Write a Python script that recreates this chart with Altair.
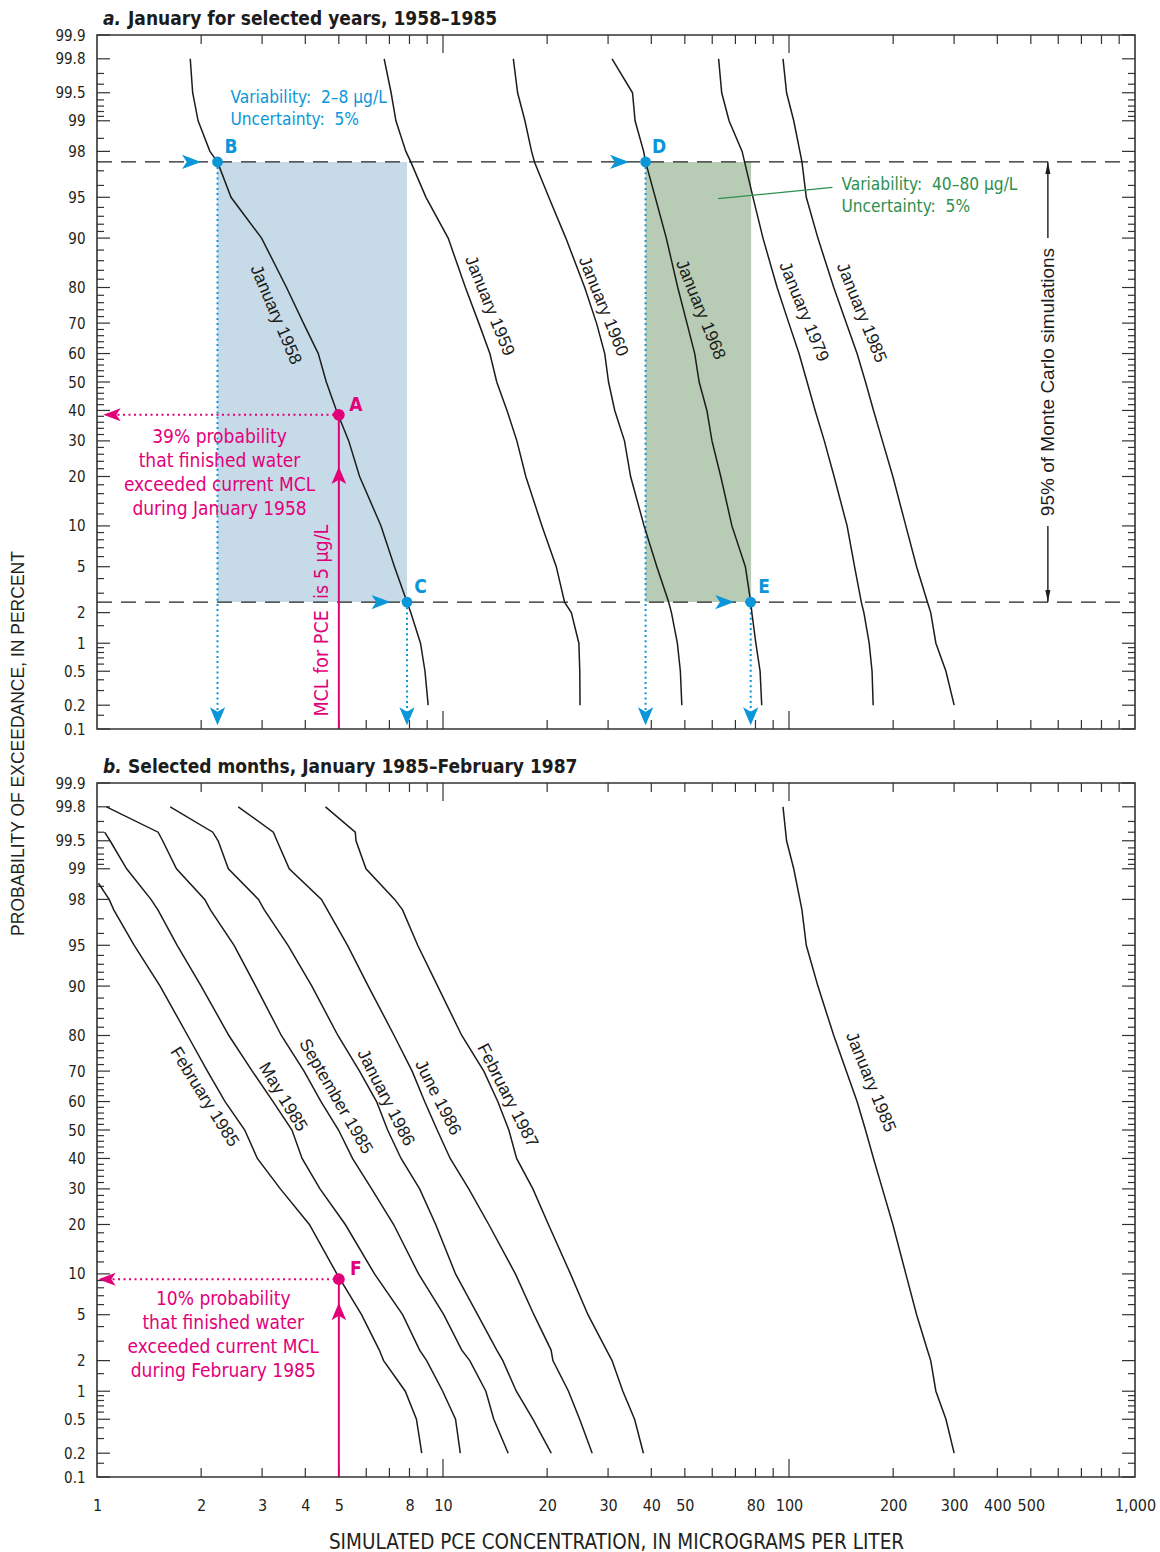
import altair as alt
import pandas as pd
from statistics import NormalDist

ND = NormalDist()

# ---------------- values ----------------
# exceedance probabilities (percent) at which each curve was read
PROB_A = [99.8, 99.5, 99, 98, 97.5, 95, 90, 80, 70, 60, 50, 40, 30, 20, 10, 5, 2.5, 2, 1, 0.5, 0.2]
PROB_B = [99.8, 99.6, 99.5, 99, 98, 97.5, 95, 90, 80, 70, 60, 50, 40, 30, 20, 10, 5, 2.5, 2, 1, 0.5, 0.2]
PROB_FEB85 = [98.6, 98, 97.5, 95, 90, 80, 70, 60, 50, 40, 30, 20, 10, 5, 2.5, 2, 1, 0.5, 0.2]
PROB_MAY85 = [99.6, 99.5, 99, 98, 97.5, 95, 90, 80, 70, 60, 50, 40, 30, 20, 10, 5, 2.5, 2, 1, 0.5, 0.2]

# simulated PCE concentration, micrograms per liter
JAN_1958 = [1.86, 1.89, 1.96, 2.12, 2.23, 2.44, 2.99, 3.53, 3.95, 4.36, 4.60, 4.92, 5.34, 5.74, 6.62, 7.24, 7.87, 8.07, 8.61, 8.87, 9.06]
JAN_1959 = [6.76, 7.08, 7.31, 7.81, 8.07, 8.93, 10.35, 11.61, 12.69, 13.66, 14.30, 15.31, 16.35, 17.35, 19.32, 21.25, 22.46, 23.49, 24.70, 24.85, 24.89]
JAN_1960 = [15.97, 16.43, 17.25, 18.03, 18.38, 20.22, 22.65, 25.68, 27.78, 29.34, 30.09, 31.36, 33.46, 34.85, 38.12, 41.5, 44.89, 45.74, 47.57, 48.53, 49.01]
JAN_1968 = [30.8, 35.3, 35.9, 38.0, 38.5, 41.06, 44.2, 47.7, 50.7, 53.4, 55.0, 57.9, 59.9, 63.5, 68.4, 74.8, 77.5, 78.1, 80.2, 82.5, 83.4]
JAN_1979 = [62.6, 63.9, 67.1, 73.2, 74.4, 78.7, 84.1, 92.4, 99.9, 106.9, 112.8, 119.0, 126.5, 135.0, 147.2, 154.7, 161.8, 164.6, 170.5, 173.8, 175.1]
JAN_1985 = [96.1, 98.4, 103.2, 107.5, 109.0, 112.2, 121.2, 134.7, 146.4, 157.3, 166.4, 175.5, 186.2, 199.6, 217.6, 233.8, 251.2, 256.8, 265.8, 284.2, 300.1]

FEB_1985 = [1.01, 1.084, 1.118, 1.281, 1.522, 1.828, 2.085, 2.345, 2.673, 2.907, 3.388, 4.11, 4.935, 5.815, 6.545, 6.735, 7.78, 8.38, 8.68]
MAY_1985 = [1.052, 1.091, 1.218, 1.432, 1.50, 1.705, 2.0, 2.405, 2.81, 3.227, 3.66, 3.915, 4.41, 5.22, 6.34, 7.643, 8.56, 8.97, 9.98, 10.87, 11.22]
SEP_1985 = [1.065, 1.502, 1.548, 1.697, 2.048, 2.127, 2.49, 2.875, 3.41, 3.966, 4.44, 4.99, 5.475, 6.22, 7.2, 8.5, 10.05, 11.33, 11.95, 13.3, 14.02, 15.43]
JAN_1986 = [1.628, 2.161, 2.239, 2.397, 2.928, 3.045, 3.565, 4.178, 4.969, 5.738, 6.427, 6.918, 7.565, 8.56, 9.526, 10.87, 12.59, 14.3, 14.89, 16.29, 18.19, 20.55]
JUN_1986 = [2.56, 3.234, 3.313, 3.594, 4.454, 4.633, 5.297, 6.081, 7.223, 8.143, 8.85, 9.62, 10.49, 11.87, 13.56, 16.19, 18.31, 20.53, 20.78, 23.05, 24.83, 26.99]
FEB_1987 = [4.575, 5.577, 5.605, 5.99, 7.25, 7.64, 8.45, 9.65, 11.33, 13.12, 14.4, 15.5, 16.32, 18.19, 20.17, 23.36, 26.24, 29.69, 30.8, 33.1, 35.79, 37.95]

CURVES = [
    ("a", "January 1958", PROB_A, JAN_1958),
    ("a", "January 1959", PROB_A, JAN_1959),
    ("a", "January 1960", PROB_A, JAN_1960),
    ("a", "January 1968", PROB_A, JAN_1968),
    ("a", "January 1979", PROB_A, JAN_1979),
    ("a", "January 1985", PROB_A, JAN_1985),
    ("b", "February 1985", PROB_FEB85, FEB_1985),
    ("b", "May 1985", PROB_MAY85, MAY_1985),
    ("b", "September 1985", PROB_B, SEP_1985),
    ("b", "January 1986", PROB_B, JAN_1986),
    ("b", "June 1986", PROB_B, JUN_1986),
    ("b", "February 1987", PROB_B, FEB_1987),
    ("b", "January 1985", PROB_A, JAN_1985),
]

# curve labels: panel, text, concentration, probability, rotation
CURVE_LABELS = [
    ("a", "January 1958", 3.28, 72.5, 67),
    ("a", "January 1959", 13.6, 75.1, 68),
    ("a", "January 1960", 29.0, 74.9, 68),
    ("a", "January 1968", 55.4, 74.0, 68),
    ("a", "January 1979", 110.1, 73.4, 68),
    ("a", "January 1985", 161.6, 73.1, 68),
    ("b", "February 1985", 2.04, 61.5, 58),
    ("b", "May 1985", 3.44, 61.5, 59),
    ("b", "September 1985", 4.89, 61.7, 60),
    ("b", "January 1986", 6.82, 61.3, 63),
    ("b", "June 1986", 9.65, 61.3, 63),
    ("b", "February 1987", 15.33, 62.0, 63),
    ("b", "January 1985", 171.8, 66.5, 68),
]

MCL = 5.0          # maximum contaminant level, ug/L
A_PROB = 38.5      # point A (January 1958)
F_PROB = 9.2       # point F (February 1985)
BAND_HI, BAND_LO = 97.5, 2.5   # 95 % of Monte Carlo simulations

X_LABELS = [1, 2, 3, 4, 5, 8, 10, 20, 30, 40, 50, 80, 100, 200, 300, 400, 500, 1000]
X_TICK_MAJOR = [10, 100]
X_TICK_MINOR = [2, 3, 4, 5, 6, 7, 8, 9, 20, 30, 40, 50, 60, 70, 80, 90, 200, 300, 400, 500, 600, 700, 800, 900]
Y_LABELS = [99.9, 99.8, 99.5, 99, 98, 95, 90, 80, 70, 60, 50, 40, 30, 20, 10, 5, 2, 1, 0.5, 0.2, 0.1]
Y_TICK_MINOR = [99.7, 99.6, 99.4, 99.3, 99.2, 99.1, 98.5, 97, 96, 94, 93, 92, 91, 88, 86, 84, 82,
                78, 76, 74, 72, 68, 66, 64, 62, 58, 56, 54, 52, 48, 46, 44, 42, 38, 36, 34, 32,
                28, 26, 24, 22, 18, 16, 14, 12, 9, 8, 7, 6, 4, 3, 1.5, 0.9, 0.8, 0.7, 0.6, 0.4, 0.3, 0.15]

# ---------------- layout / probability scale ----------------
W = 1038
PANEL_H = 694
GAP = 54
Z_TOP = ND.inv_cdf(99.9 / 100.0)
Z_BOT = ND.inv_cdf(0.1 / 100.0)
PX_Z = PANEL_H / (Z_TOP - Z_BOT)
SHIFT = (Z_TOP - Z_BOT) + GAP / PX_Z   # panel a sits above panel b on one probit axis
H = 2 * PANEL_H + GAP


def zp(p, panel):
    return ND.inv_cdf(p / 100.0) + (SHIFT if panel == "a" else 0.0)


NARROW = "DejaVu Sans Condensed, Liberation Sans Narrow, Arial Narrow, Liberation Sans, sans-serif"
SANS = "Liberation Sans, Arial, Helvetica, sans-serif"
BLUE = "#0a96d8"
MAG = "#e2007a"
GREEN_TXT = "#2e8f50"
BLUE_FILL = "#c6dbe7"
GREEN_FILL = "#b8ccb5"
INK = "#1c1c1c"
FRAME = "#333333"
LABEL_C = "#231f20"
SP2 = "\u00a0 "   # a visible double space

y_vals = [zp(p, pan) for pan in "ab" for p in Y_LABELS]
keys = ",".join("'%.4f'" % (v + 10) for v in y_vals)
labs = ",".join("'%g'" % p for pan in "ab" for p in Y_LABELS)
Y_LABEL_EXPR = f"[{labs}][indexof([{keys}], format(datum.value + 10, '.4f'))]"

XS = alt.Scale(type="log", domain=[1, 1000], nice=False)
YS = alt.Scale(domain=[zp(0.1, "b"), zp(99.9, "a")], nice=False, zero=False)

X_AXIS = alt.Axis(
    values=X_LABELS, labelExpr="format(datum.value, ',')", domain=False, ticks=False,
    tickSize=0, grid=False, labelPadding=20, labelFont=NARROW, labelFontSize=16,
    labelColor=LABEL_C, labelFlush=False, labelOverlap=False, labelBound=False,
    title="SIMULATED PCE CONCENTRATION, IN MICROGRAMS PER LITER", titleFont=NARROW,
    titleFontSize=20.5, titleFontWeight="normal", titleColor=LABEL_C,
    titleBaseline="alphabetic", titleY=71,
)
Y_AXIS = alt.Axis(
    values=y_vals, labelExpr=Y_LABEL_EXPR, domain=False, ticks=False, tickSize=0,
    grid=False, labelPadding=12, labelFont=NARROW, labelFontSize=15, labelColor=LABEL_C,
    labelFlush=False, labelOverlap=False, labelBound=False,
    title="PROBABILITY OF EXCEEDANCE, IN PERCENT", titleFont=SANS, titleFontSize=17.5,
    titleFontWeight="normal", titleColor=LABEL_C, titleAngle=270, titleX=-79, titleY=708,
    titleAlign="center", titleBaseline="middle",
)


def X():
    return alt.X("x:Q", scale=XS, axis=X_AXIS)


def Y():
    return alt.Y("z:Q", scale=YS, axis=Y_AXIS)


def base(rows):
    return alt.Chart(pd.DataFrame(rows))


layers = []

# shaded variability boxes
iB = PROB_A.index(BAND_HI)
iC = PROB_A.index(BAND_LO)
B_X, C_X = JAN_1958[iB], JAN_1958[iC]
D_X, E_X = JAN_1968[iB], JAN_1968[iC]
layers.append(
    base([
        {"x": B_X, "x2": C_X, "z": zp(BAND_HI, "a"), "z2": zp(BAND_LO, "a"), "f": BLUE_FILL},
        {"x": D_X, "x2": E_X * 1.003, "z": zp(BAND_HI, "a"), "z2": zp(BAND_LO, "a"), "f": GREEN_FILL},
    ]).mark_rect().encode(x=X(), x2="x2:Q", y=Y(), y2="z2:Q", color=alt.Color("f:N", scale=None))
)

# dashed 97.5 / 2.5 percent lines
layers.append(
    base([{"x": 1, "x2": 1000, "z": zp(p, "a")} for p in (BAND_HI, BAND_LO)])
    .mark_rule(strokeDash=[15, 9], color="#222222", strokeWidth=1.3)
    .encode(x=X(), x2="x2:Q", y=Y())
)

# blue dotted drop lines
ARROW_TIP_P = 0.146
layers.append(
    base([
        {"x": B_X, "z": zp(BAND_HI, "a"), "z2": zp(ARROW_TIP_P, "a")},
        {"x": C_X, "z": zp(BAND_LO, "a"), "z2": zp(ARROW_TIP_P, "a")},
        {"x": D_X, "z": zp(BAND_HI, "a"), "z2": zp(ARROW_TIP_P, "a")},
        {"x": E_X, "z": zp(BAND_LO, "a"), "z2": zp(ARROW_TIP_P, "a")},
    ]).mark_rule(strokeDash=[2, 3.2], strokeWidth=2, color=BLUE)
    .encode(x=X(), y=Y(), y2="z2:Q")
)

# axis ticks drawn inside the frames
def ticks(rows, orient, size, **off):
    return base(rows).mark_tick(orient=orient, size=size, thickness=1.2, color=FRAME,
                                opacity=1, **off).encode(x=X(), y=Y())


for pan in "ab":
    maj = [{"x": 1, "z": zp(p, pan)} for p in Y_LABELS]
    mnr = [{"x": 1, "z": zp(p, pan)} for p in Y_TICK_MINOR]
    layers.append(ticks(maj, "horizontal", 13, xOffset=6.5))
    layers.append(ticks(mnr, "horizontal", 7, xOffset=3.5))
    layers.append(ticks([dict(r, x=1000) for r in maj], "horizontal", 13, xOffset=-6.5))
    layers.append(ticks([dict(r, x=1000) for r in mnr], "horizontal", 7, xOffset=-3.5))
    top = zp(99.9, pan)
    bot = zp(0.1, pan)
    layers.append(ticks([{"x": v, "z": top} for v in X_TICK_MAJOR], "vertical", 18, yOffset=9))
    layers.append(ticks([{"x": v, "z": top} for v in X_TICK_MINOR], "vertical", 9, yOffset=4.5))
    layers.append(ticks([{"x": v, "z": bot} for v in X_TICK_MAJOR], "vertical", 18, yOffset=-9))
    layers.append(ticks([{"x": v, "z": bot} for v in X_TICK_MINOR], "vertical", 9, yOffset=-4.5))

# exceedance curves
rows = []
for pan, name, probs, conc in CURVES:
    assert len(probs) == len(conc), name
    for i, (p, c) in enumerate(zip(probs, conc)):
        rows.append({"key": pan + name, "ord": i, "x": c, "z": zp(p, pan)})
layers.append(
    base(rows).mark_line(color=INK, strokeWidth=1.5)
    .encode(x=X(), y=Y(), detail="key:N", order="ord:Q")
)

# magenta MCL lines
layers.append(
    base([
        {"x": MCL, "z": zp(0.1, "a"), "z2": zp(A_PROB, "a")},
        {"x": MCL, "z": zp(0.1, "b"), "z2": zp(F_PROB, "b")},
    ]).mark_rule(color=MAG, strokeWidth=2).encode(x=X(), y=Y(), y2="z2:Q")
)
layers.append(
    base([
        {"x": 1.105, "x2": MCL, "z": zp(A_PROB, "a")},
        {"x": 1.069, "x2": MCL, "z": zp(F_PROB, "b")},
    ]).mark_rule(color=MAG, strokeWidth=2, strokeDash=[2, 3.5]).encode(x=X(), x2="x2:Q", y=Y())
)

# green leader line
layers.append(
    base([{"x": 62.4, "x2": 133.5, "z": zp(94.87, "a"), "z2": zp(95.84, "a")}])
    .mark_rule(color=GREEN_TXT, strokeWidth=1.3)
    .encode(x=X(), x2="x2:Q", y=Y(), y2="z2:Q")
)

# Monte Carlo double arrow
MC_X = 560
layers.append(
    base([
        {"x": MC_X, "z": zp(BAND_HI, "a"), "z2": zp(90, "a")},
        {"x": MC_X, "z": zp(10, "a"), "z2": zp(BAND_LO, "a")},
    ]).mark_rule(color=INK, strokeWidth=1.4).encode(x=X(), y=Y(), y2="z2:Q")
)
TRI_U = "M0,-1L0.42,1L-0.42,1Z"
TRI_D = "M0,1L0.42,-1L-0.42,-1Z"
layers.append(base([{"x": MC_X, "z": zp(BAND_HI, "a")}]).mark_point(
    shape=TRI_U, size=144, filled=True, color=INK, opacity=1, yOffset=6).encode(x=X(), y=Y()))
layers.append(base([{"x": MC_X, "z": zp(BAND_LO, "a")}]).mark_point(
    shape=TRI_D, size=144, filled=True, color=INK, opacity=1, yOffset=-6).encode(x=X(), y=Y()))

# arrowheads
ARROW_R = "M1,0L-1,-0.75L-0.5,0L-1,0.75Z"
ARROW_L = "M-1,0L1,-0.75L0.5,0L1,0.75Z"
ARROW_D = "M0,1L-0.85,-1L0,-0.5L0.85,-1Z"
ARROW_U = "M0,-1L0.85,1L0,0.5L-0.85,1Z"
layers.append(
    base([
        {"x": B_X, "z": zp(BAND_HI, "a")}, {"x": C_X, "z": zp(BAND_LO, "a")},
        {"x": D_X, "z": zp(BAND_HI, "a")}, {"x": E_X, "z": zp(BAND_LO, "a")},
    ]).mark_point(shape=ARROW_R, size=361, filled=True, color=BLUE, opacity=1, strokeWidth=0, xOffset=-26)
    .encode(x=X(), y=Y())
)
layers.append(
    base([{"x": v, "z": zp(ARROW_TIP_P, "a")} for v in (B_X, C_X, D_X, E_X)])
    .mark_point(shape=ARROW_D, size=324, filled=True, color=BLUE, opacity=1, strokeWidth=0)
    .encode(x=X(), y=Y())
)
layers.append(
    base([{"x": 1.105, "z": zp(A_PROB, "a")}, {"x": 1.069, "z": zp(F_PROB, "b")}])
    .mark_point(shape=ARROW_L, size=300, filled=True, color=MAG, opacity=1, strokeWidth=0)
    .encode(x=X(), y=Y())
)
layers.append(
    base([{"x": MCL, "z": zp(20.3, "a")}, {"x": MCL, "z": zp(5.3, "b")}])
    .mark_point(shape=ARROW_U, size=300, filled=True, color=MAG, opacity=1, strokeWidth=0)
    .encode(x=X(), y=Y())
)

# points
layers.append(
    base([
        {"x": B_X, "z": zp(BAND_HI, "a")}, {"x": C_X, "z": zp(BAND_LO, "a")},
        {"x": D_X, "z": zp(BAND_HI, "a")}, {"x": E_X, "z": zp(BAND_LO, "a")},
    ]).mark_point(shape="circle", size=115, filled=True, color=BLUE, opacity=1)
    .encode(x=X(), y=Y())
)
layers.append(
    base([{"x": MCL, "z": zp(A_PROB, "a")}, {"x": MCL, "z": zp(F_PROB, "b")}])
    .mark_point(shape="circle", size=140, filled=True, color=MAG, opacity=1)
    .encode(x=X(), y=Y())
)

# point letters
layers.append(
    base([
        {"x": B_X, "z": zp(BAND_HI, "a"), "t": "B"}, {"x": C_X, "z": zp(BAND_LO, "a"), "t": "C"},
        {"x": D_X, "z": zp(BAND_HI, "a"), "t": "D"}, {"x": E_X, "z": zp(BAND_LO, "a"), "t": "E"},
    ]).mark_text(font=NARROW, fontSize=19, fontWeight="bold", color=BLUE, dx=13.5, dy=-15)
    .encode(x=X(), y=Y(), text="t:N")
)
layers.append(
    base([{"x": MCL, "z": zp(A_PROB, "a"), "t": "A"}, {"x": MCL, "z": zp(F_PROB, "b"), "t": "F"}])
    .mark_text(font=NARROW, fontSize=19, fontWeight="bold", color=MAG, dx=17, dy=-10)
    .encode(x=X(), y=Y(), text="t:N")
)

# annotation texts (y = centre of the first line)
layers.append(
    base([{"x": 2.43, "z": zp(99.428, "a"),
           "t": f"Variability:{SP2}2\u20138 \u00b5g/L\nUncertainty:{SP2}5%"}])
    .mark_text(font=NARROW, fontSize=17.2, color=BLUE, align="left", baseline="middle",
               lineBreak="\n", lineHeight=22)
    .encode(x=X(), y=Y(), text="t:N")
)
layers.append(
    base([{"x": 141.8, "z": zp(96.0, "a"),
           "t": f"Variability:{SP2}40\u201380 \u00b5g/L\nUncertainty:{SP2}5%"}])
    .mark_text(font=NARROW, fontSize=17.2, color=GREEN_TXT, align="left", baseline="middle",
               lineBreak="\n", lineHeight=22)
    .encode(x=X(), y=Y(), text="t:N")
)
layers.append(
    base([
        {"x": 2.26, "z": zp(31.29, "a"),
         "t": "39% probability\nthat finished water\nexceeded current MCL\nduring January 1958"},
        {"x": 2.317, "z": zp(6.645, "b"),
         "t": "10% probability\nthat finished water\nexceeded current MCL\nduring February 1985"},
    ]).mark_text(font=NARROW, fontSize=19, color=MAG, align="center", baseline="middle",
                 lineBreak="\n", lineHeight=24)
    .encode(x=X(), y=Y(), text="t:N")
)
layers.append(
    base([
        {"x": 4.483, "z": zp(0.61, "a"), "t": "MCL for PCE"},
        {"x": 4.483, "z": zp(5.47, "a"), "t": "is 5 \u00b5g/L"},
    ]).mark_text(font=NARROW, fontSize=19.5, color=MAG, angle=270, align="center", baseline="middle")
    .encode(x=X(), y=Y(), text="t:N")
)
layers.append(
    base([{"x": MC_X, "z": zp(50, "a"), "t": "95% of Monte Carlo simulations"}])
    .mark_text(font=SANS, fontSize=19, color=INK, angle=270, align="center", baseline="middle")
    .encode(x=X(), y=Y(), text="t:N")
)

# curve labels
layers.append(
    base([{"x": x, "z": zp(p, pan), "t": t, "ang": ang} for pan, t, x, p, ang in CURVE_LABELS])
    .mark_text(font=SANS, fontSize=17.5, color=INK, align="center", baseline="middle")
    .encode(x=X(), y=Y(), text="t:N", angle=alt.Angle("ang:Q", scale=None))
)

# panel titles
layers.append(
    base([{"x": 1, "z": zp(99.9, "a"), "t": "a."}, {"x": 1, "z": zp(99.9, "b"), "t": "b."}])
    .mark_text(font=NARROW, fontSize=19, fontWeight="bold", fontStyle="italic", color=INK,
               align="left", baseline="alphabetic", dx=6, dy=-10)
    .encode(x=X(), y=Y(), text="t:N")
)
layers.append(
    base([
        {"x": 1, "z": zp(99.9, "a"), "t": "January for selected years, 1958\u20131985"},
        {"x": 1, "z": zp(99.9, "b"), "t": "Selected months, January 1985\u2013February 1987"},
    ]).mark_text(font=NARROW, fontSize=19, fontWeight="bold", color=INK,
                 align="left", baseline="alphabetic", dx=31, dy=-10)
    .encode(x=X(), y=Y(), text="t:N")
)

# panel frames
layers.append(
    base([{"x": 1, "x2": 1000, "z": zp(99.9, pan), "z2": zp(0.1, pan)} for pan in "ab"])
    .mark_rect(fill="white", fillOpacity=0, stroke=FRAME, strokeWidth=1.6)
    .encode(x=X(), x2="x2:Q", y=Y(), y2="z2:Q")
)

chart = alt.layer(*layers).properties(
    width=W, height=H,
    autosize=alt.AutoSizeParams(type="none"),
    padding={"left": 97, "top": 35, "right": 25, "bottom": 75},
    background="white",
).configure_view(strokeWidth=0)

chart.save("out.html", embed_options={"renderer": "svg", "actions": False})
